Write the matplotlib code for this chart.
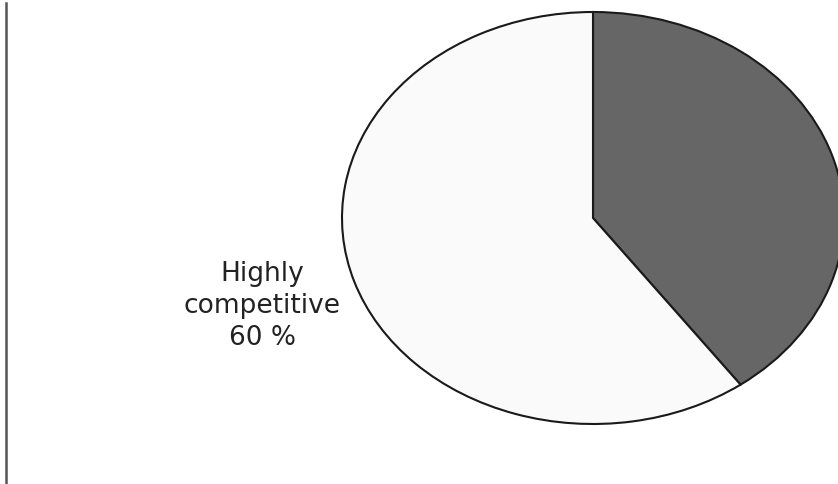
import matplotlib
matplotlib.use('Agg')
import matplotlib.pyplot as plt
from matplotlib.lines import Line2D

# Данные
labels = ['Other', 'Highly\ncompetitive']
shares = [40, 60]
pct_labels = ['40 %', '60 %']
colors = ['#666666', '#fafafa']

W, H = 838, 485
fig = plt.figure(figsize=(W / 100, H / 100), dpi=100)
ax = fig.add_axes([0, 0, 1, 1])

# эллипс: центр (593, 219) px, полуоси 251 x 206 px
cx, cy, rx, ry = 593, 219, 251, 206
ax.pie(shares, colors=colors, startangle=90, counterclock=False,
       wedgeprops=dict(edgecolor='#1a1a1a', linewidth=1.5))
ax.set_aspect('auto')
ax.set_xlim(-cx / rx, (W - cx) / rx)
ax.set_ylim(-(H - cy) / ry, cy / ry)
ax.axis('off')

# подпись
fig.text(262 / W, 1 - 306 / H, labels[1] + '\n' + pct_labels[1],
         ha='center', va='center', fontsize=19, color='#222222',
         family='DejaVu Sans', linespacing=1.3)

# вертикальная линия слева
fig.add_artist(Line2D([6 / W, 6 / W], [0, 1 - 4 / H], transform=fig.transFigure,
                      color='#555555', linewidth=1.8))

fig.savefig('out.png', dpi=100, facecolor='white')
